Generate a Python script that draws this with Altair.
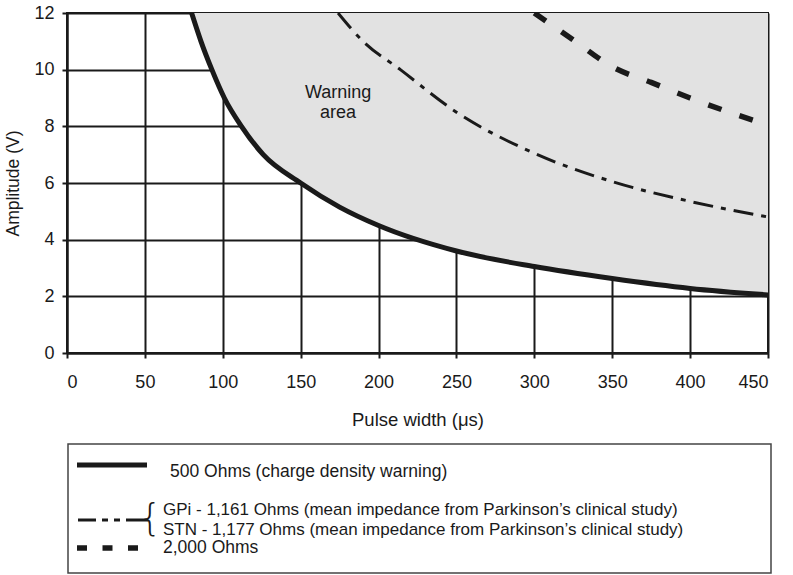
import altair as alt
import pandas as pd

# 500 Ohms (charge density warning) curve
pw500 = [80, 86, 93, 101, 112, 126, 150, 175, 200, 250, 300, 350, 400, 450]
v500 = [12, 11, 10, 9, 8, 7, 6, 5.15, 4.5, 3.6, 3.05, 2.63, 2.28, 2.05]
# GPi / STN ~1,170 Ohms curve
pw_gpi = [174, 190, 214, 250, 300, 350, 400, 450]
v_gpi = [12, 11, 10, 8.5, 7.05, 6.05, 5.35, 4.8]
# 2,000 Ohms curve
pw2000 = [300, 325, 350, 375, 400, 425, 450]
v2000 = [12, 11.05, 10.1, 9.55, 9.0, 8.5, 8.05]

x_ticks = [0, 50, 100, 150, 200, 250, 300, 350, 400, 450]
y_ticks = [0, 2, 4, 6, 8, 10, 12]

legend_500 = "500 Ohms (charge density warning)"
legend_gpi = "GPi - 1,161 Ohms (mean impedance from Parkinson\u2019s clinical study)"
legend_stn = "STN - 1,177 Ohms (mean impedance from Parkinson\u2019s clinical study)"
legend_2000 = "2,000 Ohms"

FONT = "Liberation Sans"
INK = "#1a1a1a"

df500 = pd.DataFrame({"pw": pw500, "v": v500})
dfgpi = pd.DataFrame({"pw": pw_gpi, "v": v_gpi})
df2000 = pd.DataFrame({"pw": pw2000, "v": v2000})
one = pd.DataFrame({"k": [0]})

xs = alt.Scale(domain=[0, 450], nice=False)
ys = alt.Scale(domain=[0, 12], nice=False)

xax = alt.Axis(values=x_ticks, title="Pulse width (\u03bcs)", labelPadding=15, titlePadding=19, titleFontSize=18.5)
yax = alt.Axis(values=y_ticks, title="Amplitude (V)", labelPadding=8, titlePadding=11)

area = alt.Chart(df500).mark_area(color="#e2e2e2", interpolate="monotone").encode(
    x=alt.X("pw:Q", scale=xs, axis=xax),
    y=alt.Y("v:Q", scale=ys, axis=yax),
    y2=alt.datum(12),
)

line500 = alt.Chart(df500).mark_line(color=INK, strokeWidth=5, interpolate="monotone", clip=True).encode(
    x=alt.X("pw:Q", scale=xs), y=alt.Y("v:Q", scale=ys)
)
linegpi = alt.Chart(dfgpi).mark_line(color=INK, strokeWidth=3, strokeDash=[20, 8, 5, 8], interpolate="monotone", clip=True).encode(
    x=alt.X("pw:Q", scale=xs), y=alt.Y("v:Q", scale=ys)
)
line2000 = alt.Chart(df2000).mark_line(color=INK, strokeWidth=5.5, strokeDash=[14, 19], interpolate="monotone", clip=True).encode(
    x=alt.X("pw:Q", scale=xs), y=alt.Y("v:Q", scale=ys)
)

warn = alt.Chart(one).mark_text(font=FONT, fontSize=18, color=INK, lineHeight=20, baseline="middle").encode(
    x=alt.datum(174), y=alt.datum(9.18), text=alt.value(["Warning", "area"])
)

# legend box (drawn below the plot, in pixel space)
box = alt.Chart(one).mark_rect(fillOpacity=0, stroke="#444", strokeWidth=1.5).encode(
    x=alt.value(1), x2=alt.value(704), y=alt.value(431), y2=alt.value(560)
)
leg_solid = alt.Chart(one).mark_rule(color=INK, strokeWidth=5).encode(
    x=alt.value(10), x2=alt.value(80), y=alt.value(452)
)
leg_dashdot = alt.Chart(one).mark_rule(color=INK, strokeWidth=3, strokeDash=[18, 6, 6, 6, 6, 6, 30]).encode(
    x=alt.value(11), x2=alt.value(81), y=alt.value(507)
)
leg_dash = alt.Chart(one).mark_rule(color=INK, strokeWidth=5.5, strokeDash=[10, 15.5]).encode(
    x=alt.value(10), x2=alt.value(71), y=alt.value(535)
)
brace = alt.Chart(one).mark_text(font="DejaVu Sans", fontSize=38, fontWeight=200, color=INK, align="center", baseline="middle").encode(
    x=alt.value(83), y=alt.value(506), text=alt.value("{")
)

def ltext(txt, x, y, size=17.5):
    return alt.Chart(one).mark_text(font=FONT, fontSize=size, color=INK, align="left", baseline="middle").encode(
        x=alt.value(x), y=alt.value(y), text=alt.value(txt)
    )

chart = alt.layer(
    area, line500, linegpi, line2000, warn,
    box, leg_solid, leg_dashdot, leg_dash, brace,
    ltext(legend_500, 103, 459),
    ltext(legend_gpi, 96, 497, 17), ltext(legend_stn, 96, 516.5, 17),
    ltext(legend_2000, 96, 535),
).properties(
    width=701, height=340,
    autosize=alt.AutoSizeParams(type="none"),
    padding={"left": 67, "top": 13, "right": 25, "bottom": 222},
).configure_view(
    stroke=INK, strokeWidth=2
).configure_axis(
    grid=True, gridColor=INK, gridWidth=2, gridOpacity=1,
    domainColor=INK, domainWidth=2, tickColor=INK, tickWidth=2, tickSize=5,
    labelFont=FONT, labelFontSize=18, labelColor=INK, titleFont=FONT, titleFontSize=17.5,
    titleFontWeight="normal", titleColor=INK, zindex=1,
)

chart.save("out.html", embed_options={"renderer": "svg", "actions": False})
